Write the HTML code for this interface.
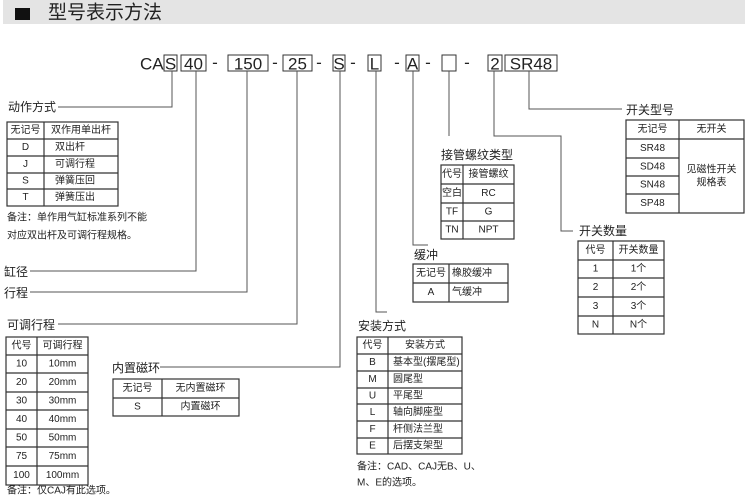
<!DOCTYPE html>
<html><head><meta charset="utf-8"><style>
html,body{margin:0;padding:0;background:#fff;width:750px;height:501px;overflow:hidden}
svg{display:block}
text{font-family:"Liberation Sans","Noto Sans CJK SC",sans-serif;fill:#222}
.t{font-size:10px;dominant-baseline:central}
.c{text-anchor:middle}
.lb{font-size:12px;dominant-baseline:central}
.code{font-size:17px;fill:#222}
.tb{fill:none;stroke:#333;stroke-width:1.2}
.ln{fill:none;stroke:#555;stroke-width:1}
</style></head><body>
<svg width="750" height="501" viewBox="0 0 750 501" xmlns="http://www.w3.org/2000/svg">
<rect x="0" y="0" width="750" height="501" fill="#fff"/>
<!-- header -->
<rect x="3" y="0" width="742" height="24" fill="#e4e4e4"/>
<rect x="15" y="8" width="15" height="12" fill="#111"/>
<text x="48" y="13" style="font-size:19px;dominant-baseline:central" fill="#222">型号表示方法</text>

<!-- code line -->
<text x="140" y="69.5" class="code">CA</text>
<g class="tb" style="stroke-width:1">
<rect x="164" y="55" width="13" height="16"/>
<rect x="181" y="55" width="25" height="16"/>
<rect x="228" y="55" width="40" height="16"/>
<rect x="283" y="55" width="29" height="16"/>
<rect x="333" y="55" width="12" height="16"/>
<rect x="368" y="55" width="13" height="16"/>
<rect x="406" y="55" width="13" height="16"/>
<rect x="442" y="55" width="14" height="16"/>
<rect x="488" y="55" width="14" height="16"/>
<rect x="505" y="55" width="52" height="16"/>
</g>
<g class="code" text-anchor="middle">
<text x="170.5" y="69.5" class="code">S</text>
<text x="193.5" y="69.5" class="code">40</text>
<text x="248" y="69.5" class="code">150</text>
<text x="297.5" y="69.5" class="code">25</text>
<text x="339" y="69.5" class="code">S</text>
<text x="374.5" y="69.5" class="code">L</text>
<text x="412.5" y="69.5" class="code">A</text>
<text x="495" y="69.5" class="code">2</text>
<text x="531" y="69.5" class="code">SR48</text>
<text x="215" y="68" class="code">-</text>
<text x="275" y="68" class="code">-</text>
<text x="319" y="68" class="code">-</text>
<text x="353" y="68" class="code">-</text>
<text x="397" y="68" class="code">-</text>
<text x="428" y="68" class="code">-</text>
<text x="467" y="68" class="code">-</text>
</g>

<!-- connectors -->
<g class="ln">
<polyline points="172,71 172,107 58,107"/>
<polyline points="196,71 196,271 30,271"/>
<polyline points="247,71 247,292 30,292"/>
<polyline points="297,71 297,324 58,324"/>
<polyline points="340,71 340,367 160,367"/>
<polyline points="376,71 376,312 387,312"/>
<polyline points="413,71 413,245 428,245"/>
<polyline points="449,71 449,136"/>
<polyline points="494,71 494,136 561,136 561,231 573,231"/>
<polyline points="529,71 529,109 622,109"/>
</g>

<!-- labels -->
<text x="8" y="107" class="lb">动作方式</text>
<text x="4" y="272" class="lb">缸径</text>
<text x="4" y="293" class="lb">行程</text>
<text x="7" y="325" class="lb">可调行程</text>
<text x="112" y="368" class="lb">内置磁环</text>
<text x="441" y="155" class="lb">接管螺纹类型</text>
<text x="414" y="255" class="lb">缓冲</text>
<text x="358" y="326" class="lb">安装方式</text>
<text x="626" y="110" class="lb">开关型号</text>
<text x="579" y="231" class="lb">开关数量</text>

<!-- T1 动作方式 -->
<g class="tb">
<rect x="7" y="122" width="111" height="84"/>
<line x1="44" y1="122" x2="44" y2="206"/>
<line x1="7" y1="139" x2="118" y2="139"/>
<line x1="7" y1="156" x2="118" y2="156"/>
<line x1="7" y1="173" x2="118" y2="173"/>
<line x1="7" y1="189" x2="118" y2="189"/>
</g>
<text x="25.5" y="130.5" class="t c">无记号</text><text x="81" y="130.5" class="t c">双作用单出杆</text>
<text x="25.5" y="147.5" class="t c">D</text><text x="55" y="147.5" class="t">双出杆</text>
<text x="25.5" y="164.5" class="t c">J</text><text x="55" y="164.5" class="t">可调行程</text>
<text x="25.5" y="181" class="t c">S</text><text x="55" y="181" class="t">弹簧压回</text>
<text x="25.5" y="197.5" class="t c">T</text><text x="55" y="197.5" class="t">弹簧压出</text>
<text x="7" y="218" class="t">备注：单作用气缸标准系列不能</text>
<text x="7" y="236" class="t">对应双出杆及可调行程规格。</text>

<!-- T2 可调行程 -->
<g class="tb">
<rect x="6" y="337" width="82" height="148"/>
<line x1="37" y1="337" x2="37" y2="485"/>
<line x1="6" y1="355" x2="88" y2="355"/>
<line x1="6" y1="373" x2="88" y2="373"/>
<line x1="6" y1="392" x2="88" y2="392"/>
<line x1="6" y1="410" x2="88" y2="410"/>
<line x1="6" y1="429" x2="88" y2="429"/>
<line x1="6" y1="447" x2="88" y2="447"/>
<line x1="6" y1="466" x2="88" y2="466"/>
</g>
<text x="21.5" y="346" class="t c">代号</text><text x="62.5" y="346" class="t c">可调行程</text>
<text x="21.5" y="364" class="t c">10</text><text x="62.5" y="364" class="t c">10mm</text>
<text x="21.5" y="382.5" class="t c">20</text><text x="62.5" y="382.5" class="t c">20mm</text>
<text x="21.5" y="401" class="t c">30</text><text x="62.5" y="401" class="t c">30mm</text>
<text x="21.5" y="419.5" class="t c">40</text><text x="62.5" y="419.5" class="t c">40mm</text>
<text x="21.5" y="438" class="t c">50</text><text x="62.5" y="438" class="t c">50mm</text>
<text x="21.5" y="456.5" class="t c">75</text><text x="62.5" y="456.5" class="t c">75mm</text>
<text x="21.5" y="475.5" class="t c">100</text><text x="62.5" y="475.5" class="t c">100mm</text>
<text x="7" y="491" class="t">备注：仅CAJ有此选项。</text>

<!-- T3 内置磁环 -->
<g class="tb">
<rect x="113" y="379" width="126" height="37"/>
<line x1="162" y1="379" x2="162" y2="416"/>
<line x1="113" y1="398" x2="239" y2="398"/>
</g>
<text x="137.5" y="388.5" class="t c">无记号</text><text x="200.5" y="388.5" class="t c">无内置磁环</text>
<text x="137.5" y="407" class="t c">S</text><text x="200.5" y="407" class="t c">内置磁环</text>

<!-- T4 接管螺纹 -->
<g class="tb">
<rect x="441" y="165" width="73" height="74"/>
<line x1="463" y1="165" x2="463" y2="239"/>
<line x1="441" y1="184" x2="514" y2="184"/>
<line x1="441" y1="203" x2="514" y2="203"/>
<line x1="441" y1="221" x2="514" y2="221"/>
</g>
<text x="452" y="174.5" class="t c">代号</text><text x="488.5" y="174.5" class="t c">接管螺纹</text>
<text x="452" y="193.5" class="t c">空白</text><text x="488.5" y="193.5" class="t c">RC</text>
<text x="452" y="212" class="t c">TF</text><text x="488.5" y="212" class="t c">G</text>
<text x="452" y="230" class="t c">TN</text><text x="488.5" y="230" class="t c">NPT</text>

<!-- T5 缓冲 -->
<g class="tb">
<rect x="413" y="264" width="95" height="38"/>
<line x1="449" y1="264" x2="449" y2="302"/>
<line x1="413" y1="283" x2="508" y2="283"/>
</g>
<text x="431" y="273.5" class="t c">无记号</text><text x="452" y="273.5" class="t">橡胶缓冲</text>
<text x="431" y="292.5" class="t c">A</text><text x="452" y="292.5" class="t">气缓冲</text>

<!-- T6 安装方式 -->
<g class="tb">
<rect x="357" y="337" width="105" height="117"/>
<line x1="388" y1="337" x2="388" y2="454"/>
<line x1="357" y1="354" x2="462" y2="354"/>
<line x1="357" y1="371" x2="462" y2="371"/>
<line x1="357" y1="388" x2="462" y2="388"/>
<line x1="357" y1="404" x2="462" y2="404"/>
<line x1="357" y1="421" x2="462" y2="421"/>
<line x1="357" y1="438" x2="462" y2="438"/>
</g>
<text x="372.5" y="345.5" class="t c">代号</text><text x="425" y="345.5" class="t c">安装方式</text>
<text x="372.5" y="362.5" class="t c">B</text><text x="393" y="362.5" class="t">基本型(摆尾型)</text>
<text x="372.5" y="379.5" class="t c">M</text><text x="393" y="379.5" class="t">圆尾型</text>
<text x="372.5" y="396" class="t c">U</text><text x="393" y="396" class="t">平尾型</text>
<text x="372.5" y="412.5" class="t c">L</text><text x="393" y="412.5" class="t">轴向脚座型</text>
<text x="372.5" y="429.5" class="t c">F</text><text x="393" y="429.5" class="t">杆侧法兰型</text>
<text x="372.5" y="446" class="t c">E</text><text x="393" y="446" class="t">后摆支架型</text>
<text x="357" y="467" class="t">备注：CAD、CAJ无B、U、</text>
<text x="357" y="483" class="t">M、E的选项。</text>

<!-- T7 开关型号 -->
<g class="tb">
<rect x="626" y="120" width="118" height="93"/>
<line x1="679" y1="120" x2="679" y2="213"/>
<line x1="626" y1="139" x2="744" y2="139"/>
<line x1="626" y1="158" x2="679" y2="158"/>
<line x1="626" y1="176" x2="679" y2="176"/>
<line x1="626" y1="194" x2="679" y2="194"/>
</g>
<text x="652.5" y="129.5" class="t c">无记号</text><text x="711.5" y="129.5" class="t c">无开关</text>
<text x="652.5" y="148.5" class="t c">SR48</text>
<text x="652.5" y="167" class="t c">SD48</text>
<text x="652.5" y="185" class="t c">SN48</text>
<text x="652.5" y="203.5" class="t c">SP48</text>
<text x="711.5" y="170" class="t c">见磁性开关</text>
<text x="711.5" y="183" class="t c">规格表</text>

<!-- T8 开关数量 -->
<g class="tb">
<rect x="578" y="241" width="86" height="93"/>
<line x1="613" y1="241" x2="613" y2="334"/>
<line x1="578" y1="260" x2="664" y2="260"/>
<line x1="578" y1="278" x2="664" y2="278"/>
<line x1="578" y1="297" x2="664" y2="297"/>
<line x1="578" y1="316" x2="664" y2="316"/>
</g>
<text x="595.5" y="250.5" class="t c">代号</text><text x="638.5" y="250.5" class="t c">开关数量</text>
<text x="595.5" y="269" class="t c">1</text><text x="638.5" y="269" class="t c">1个</text>
<text x="595.5" y="287.5" class="t c">2</text><text x="638.5" y="287.5" class="t c">2个</text>
<text x="595.5" y="306.5" class="t c">3</text><text x="638.5" y="306.5" class="t c">3个</text>
<text x="595.5" y="325" class="t c">N</text><text x="638.5" y="325" class="t c">N个</text>
</svg>
</body></html>
